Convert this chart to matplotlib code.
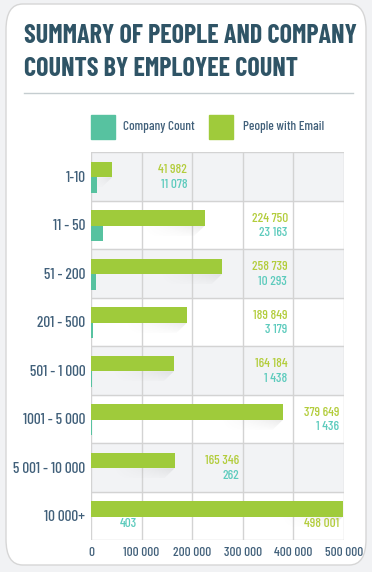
import matplotlib
matplotlib.use("Agg")
import matplotlib.pyplot as plt
from matplotlib.patches import FancyBboxPatch
from matplotlib.ticker import FuncFormatter
import numpy as np

# data
categories = ["1-10", "11 - 50", "51 - 200", "201 - 500", "501 - 1 000",
              "1001 - 5 000", "5 001 - 10 000", "10 000+"]
people_email = [41982, 224750, 258739, 189849, 164184, 379649, 165346, 498001]
company_count = [11078, 23163, 10293, 3179, 1438, 1436, 262, 403]
# where the chart put its value labels (right edge, data units)
label_x = [190000, 389000, 388000, 388000, 388000, 491000, 292000, 491000]
small_label_x = 91000  # the "403" label of the last row
xticks = [0, 100000, 200000, 300000, 400000, 500000]

GREEN = "#9fcb3b"
TEAL = "#57c2a0"
GREEN_TXT = "#b3cd3c"
TEAL_TXT = "#5dcbbd"
TITLE_C = "#2f5466"
TICK_C = "#41607a"
GRID_C = "#d3d3d3"

plt.rcParams['font.family'] = ['Barlow Condensed', 'DejaVu Sans']

fig = plt.figure(figsize=(3.72, 5.72), dpi=100)
fig.patch.set_facecolor("#f1f2f4")

# white card behind everything
card = FancyBboxPatch((6 / 372, 7 / 572), 360 / 372, 561 / 572,
                      boxstyle="round,pad=0,rounding_size=0.045",
                      transform=fig.transFigure, facecolor="white",
                      edgecolor="#d6d6d6", linewidth=1.0, zorder=-1)
fig.patches.append(card)

title_font = dict(fontsize=18.8, fontweight="bold", color=TITLE_C, va="center", ha="left")
fig.text(24 / 372, 1 - 36 / 572, "SUMMARY OF PEOPLE AND COMPANY", **title_font)
fig.text(24 / 372, 1 - 69 / 572, "COUNTS BY EMPLOYEE COUNT", **title_font)
fig.add_artist(plt.Line2D([24 / 372, 353 / 372], [1 - 93 / 572, 1 - 93 / 572],
                          color="#c5cdd0", linewidth=1.0, transform=fig.transFigure))

# legend
fig.patches.append(plt.Rectangle((91 / 372, 1 - 139 / 572), 24 / 372, 24 / 572,
                                 transform=fig.transFigure, color=TEAL))
fig.text(123 / 372, 1 - 127 / 572, "Company Count", fontsize=9.5, fontweight="medium",
         color=TICK_C, va="center")
fig.patches.append(plt.Rectangle((209 / 372, 1 - 139 / 572), 24 / 372, 24 / 572,
                                 transform=fig.transFigure, color=GREEN))
fig.text(243 / 372, 1 - 127 / 572, "People with Email", fontsize=9.5, fontweight="medium",
         color=TICK_C, va="center")

ax = fig.add_axes([91 / 372, 1 - 540 / 572, 253 / 372, 388 / 572])
ax.set_zorder(2)
n = len(categories)
y = np.arange(n)
h = 0.32
off = 0.02

# alternating row background
for i in range(n):
    if i % 2 == 0:
        ax.axhspan(i - 0.5, i + 0.5, color="#f2f3f5", zorder=0)

# grid
for xv in xticks:
    ax.axvline(xv, color=GRID_C, linewidth=1.0, zorder=1)
for i in range(n + 1):
    ax.axhline(i - 0.5, color=GRID_C, linewidth=1.0, zorder=1)

# soft shadow below the right end of each green bar
gx = np.linspace(0, 1, 80) ** 1.5
gy = np.linspace(1, 0.2, 20)
alpha = 0.16 * np.outer(gy, gx)
shadow = np.zeros((20, 80, 4))
shadow[..., :3] = 0.45
shadow[..., 3] = alpha
for i, v in enumerate(people_email):
    yb = y[i] + off
    L = min(130000, v)
    im = ax.imshow(shadow, extent=(v - L, v, yb + 0.21, yb), aspect="auto",
                   interpolation="bilinear", zorder=2)
    poly = plt.Polygon([(v - L, yb), (v, yb), (v - 21000, yb + 0.21), (v - L, yb + 0.21)],
                       transform=ax.transData)
    im.set_clip_path(poly)

ax.barh(y - h / 2 + off, people_email, height=h, color=GREEN, zorder=3)
ax.barh(y + h / 2 + off, company_count, height=h, color=TEAL, zorder=3)


def fmt(v):
    return f"{v:,}".replace(",", " ")


lab = dict(fontsize=9.5, fontweight="medium", ha="right", va="center", zorder=4)
for i in range(n):
    if i == n - 1:
        ax.text(small_label_x, y[i] + 0.17, fmt(company_count[i]), color=TEAL_TXT, **lab)
        ax.text(label_x[i], y[i] + 0.17, fmt(people_email[i]), color=GREEN_TXT, **lab)
    else:
        ax.text(label_x[i], y[i] - 0.12, fmt(people_email[i]), color=GREEN_TXT, **lab)
        ax.text(label_x[i], y[i] + 0.18, fmt(company_count[i]), color=TEAL_TXT, **lab)

ax.set_xlim(0, 500000)
ax.set_ylim(n - 0.5, -0.5)
ax.set_yticks(y)
ax.set_yticklabels(categories, fontsize=11, fontweight="medium", color=TICK_C)
ax.set_xticks(xticks)
ax.xaxis.set_major_formatter(FuncFormatter(lambda v, p: fmt(int(v))))
ax.tick_params(axis="x", labelsize=9.5, colors=TICK_C, length=0, pad=5)
for t in ax.get_xticklabels():
    t.set_fontweight("medium")
ax.tick_params(axis="y", length=0, pad=4)
for s in ax.spines.values():
    s.set_visible(False)
ax.set_facecolor("white")

fig.savefig("out.png", dpi=100, facecolor=fig.get_facecolor())
